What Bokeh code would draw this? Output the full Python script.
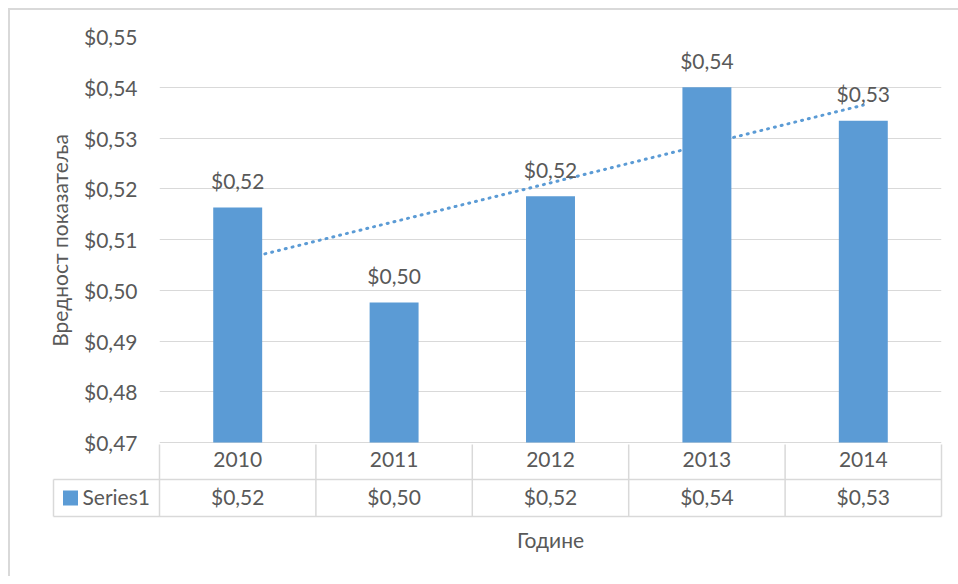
import numpy as np
from bokeh.plotting import figure
from bokeh.models import FactorRange, Range1d, FixedTicker, CustomJSTickFormatter
from bokeh.core.properties import value
from bokeh.embed import file_html
from bokeh.resources import INLINE

# ---- data ----
YEARS = ["2010", "2011", "2012", "2013", "2014"]
VALUES = [0.5163, 0.4976, 0.5185, 0.5400, 0.5334]
SERIES_NAME = "Series1"
Y_TICKS = [0.47, 0.48, 0.49, 0.50, 0.51, 0.52, 0.53, 0.54, 0.55]
X_TITLE = "Године"
Y_TITLE = "Вредност показатеља"

def money(v):
    return "$" + f"{v:.2f}".replace(".", ",")

LABELS = [money(v) for v in VALUES]

# linear trendline (Excel style) fitted on category index
idx = np.arange(len(VALUES))
slope, intercept = np.polyfit(idx, VALUES, 1)
TREND = list(slope * idx + intercept)

# ---- style ----
FONT = "Lato"
TXT = "#595959"
BAR = "#5b9bd5"
GRID = "#d9d9d9"
FS = "21px"

W = 958
CAT_PX = 782 / 5
Y_MIN, Y_MAX = Y_TICKS[0], Y_TICKS[-1]
PX_PER_UNIT = 406 / (Y_MAX - Y_MIN)
OVERLAP = 12

def grad(x, y, w, h):
    return f"linear-gradient({GRID}, {GRID}) {x} {y} / {w} {h} no-repeat"

# ---- main chart ----
p = figure(width=W, height=444 + OVERLAP, x_range=FactorRange(*YEARS),
           y_range=Range1d(Y_MIN - 2 / PX_PER_UNIT, Y_MAX),
           x_axis_location=None, toolbar_location=None, output_backend="svg",
           min_border_left=159, min_border_right=17, min_border_top=36,
           min_border_bottom=OVERLAP,
           styles={"background": grad("8px", "8px", "2px", "calc(100% - 8px)") + ", "
                                  + grad("8px", "8px", "calc(100% - 8px)", "2px")})
p.border_fill_color = None
p.background_fill_color = None
p.outline_line_color = None
p.xgrid.grid_line_color = None
p.ygrid.grid_line_color = GRID
p.ygrid.grid_line_width = 1
p.yaxis.ticker = FixedTicker(ticks=Y_TICKS, minor_ticks=[])
p.yaxis.formatter = CustomJSTickFormatter(code="return '$' + tick.toFixed(2).replace('.', ',');")
p.yaxis.axis_line_color = None
p.yaxis.major_tick_line_color = None
p.yaxis.minor_tick_line_color = None
p.yaxis.major_tick_out = 0
p.yaxis.major_label_standoff = 22
p.yaxis.major_label_text_font = FONT
p.yaxis.major_label_text_font_size = FS
p.yaxis.major_label_text_color = TXT
p.yaxis.axis_label = Y_TITLE
p.yaxis.axis_label_text_font = FONT
p.yaxis.axis_label_text_font_size = FS
p.yaxis.axis_label_text_font_style = "normal"
p.yaxis.axis_label_text_color = TXT
p.yaxis.axis_label_standoff = 9

p.line(x=YEARS, y=TREND, line_color=BAR, line_width=3, line_dash="1 6", line_cap="round")
p.vbar(x=YEARS, top=VALUES, bottom=Y_MIN, width=0.313, fill_color=BAR, line_color=None)
p.text(x=YEARS, y=VALUES, text=LABELS, text_align="center", text_baseline="alphabetic",
       y_offset=-27, text_font=value(FONT), text_font_size=FS, text_color=TXT)

# ---- data table + x title ----
LEFT = -0.5 - (159 - 51) / CAT_PX
RIGHT = len(YEARS) - 0.5 + 2 / CAT_PX
LEG_LEFT = -0.5 - (159 - 53) / CAT_PX
t = figure(width=W, height=132, x_range=Range1d(LEFT, RIGHT), y_range=Range1d(134, 2),
           x_axis_location=None, y_axis_location=None, toolbar_location=None,
           output_backend="svg", min_border_left=51, min_border_right=15,
           min_border_top=0, min_border_bottom=0,
           styles={"background": grad("8px", "0px", "2px", "100%"),
                   "margin-top": f"-{OVERLAP}px"})
t.border_fill_color = None
t.background_fill_color = None
t.outline_line_color = None
t.grid.grid_line_color = None

n = len(YEARS)
ROW1, ROW2 = 37, 74
hx0 = [-0.5, LEG_LEFT, LEG_LEFT]
hx1 = [n - 0.5] * 3
hy = [0, ROW1, ROW2]
t.segment(x0=hx0, y0=hy, x1=hx1, y1=hy, line_color=GRID, line_width=1.5)
vx = [LEG_LEFT] + [i - 0.5 for i in range(n + 1)]
vy0 = [ROW1] + [0] * (n + 1)
vy1 = [ROW2] * (n + 2)
t.segment(x0=vx, y0=vy0, x1=vx, y1=vy1, line_color=GRID, line_width=1.5)

xs = list(range(n))
t.text(x=xs, y=[ROW1 / 2] * n, text=YEARS, text_align="center", text_baseline="middle",
       y_offset=-2, text_font=value(FONT), text_font_size=FS, text_color=TXT)
t.text(x=xs, y=[(ROW1 + ROW2) / 2] * n, text=LABELS, text_align="center", text_baseline="middle",
       y_offset=-2, text_font=value(FONT), text_font_size=FS, text_color=TXT)
t.scatter(x=[-0.5 - (159 - 70) / CAT_PX], y=[(ROW1 + ROW2) / 2], marker="square", size=15,
          fill_color=BAR, line_color=None)
t.text(x=[-0.5 - (159 - 82) / CAT_PX], y=[(ROW1 + ROW2) / 2], text=[SERIES_NAME],
       text_align="left", text_baseline="middle", y_offset=-2,
       text_font=value(FONT), text_font_size=FS, text_color=TXT)
t.text(x=[(n - 1) / 2], y=[100], text=[X_TITLE], text_align="center", text_baseline="middle",
       y_offset=-3, text_font=value(FONT), text_font_size=FS, text_color=TXT)

open("out.html", "w").write(file_html([p, t], INLINE))
